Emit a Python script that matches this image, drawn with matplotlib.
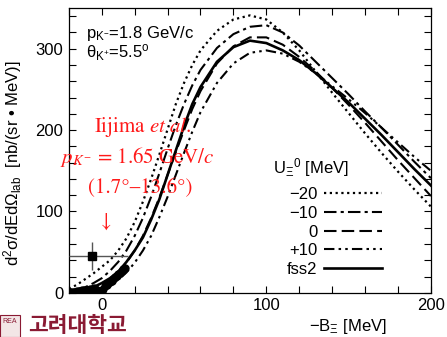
import matplotlib
matplotlib.use('Agg')
import matplotlib.pyplot as plt
from matplotlib.ticker import MultipleLocator
from matplotlib.patches import Rectangle

plt.rcParams['font.family'] = ['Liberation Sans', 'DejaVu Sans']
plt.rcParams['mathtext.fontset'] = 'custom'
plt.rcParams['mathtext.rm'] = 'Liberation Sans'
plt.rcParams['mathtext.it'] = 'Liberation Sans:italic'
plt.rcParams['mathtext.bf'] = 'Liberation Sans:bold'

# energy grid (-B_Xi, MeV)
x = [-20, -15, -10, -5, 0, 5, 10, 15, 20, 25, 30, 35, 40, 45, 50, 55, 60,
     70, 80, 90, 100, 110, 120, 130, 140, 150, 160, 170, 180, 190, 200]

# spectra for U_Xi^0 = -20, -10, 0, +10 MeV and fss2 [nb/(sr MeV)]
u_m20 = [5, 10, 17, 24, 32, 40, 52, 67, 87, 112, 140, 170, 201, 232, 258, 280, 298,
         322, 336, 341, 336, 320, 298, 272, 246, 221, 196, 172, 149, 127, 106]
u_m10 = [2, 4, 7, 12, 18, 27, 38, 52, 70, 92, 118, 147, 177, 206, 232, 255, 274,
         301, 318, 327, 329, 320, 304, 284, 264, 244, 223, 203, 182, 161, 141]
u_0 = [1, 2, 3, 6, 10, 16, 25, 37, 52, 70, 92, 117, 145, 173, 200, 226, 248,
       282, 303, 314, 314, 305, 290, 272, 252, 231, 209, 186, 163, 141, 119]
u_p10 = [0.5, 1, 2, 3.5, 6, 10, 16, 25, 37, 52, 70, 93, 118, 145, 172, 198, 222,
         258, 282, 295, 298, 294, 284, 270, 254, 238, 221, 203, 185, 167, 150]
fss2 = [1, 2, 4, 7, 12, 18, 26, 38, 52, 68, 90, 115, 145, 175, 205, 232, 253,
        284, 302, 310, 307, 298, 286, 270, 252, 234, 214, 194, 173, 152, 132]

# measured points
data_x = [-20, -19, -18, -17, -16, -15, -14, -13, -12, -11, -10, -9, -8, -7, -6,
          -5, -4, -3, -2, -1, 0, 1, 2, 3, 4, 5, 6, 7, 8, 9, 10, 11, 12, 13, 14]
data_y = [1, 1, 1.5, 1, 1.5, 2, 2, 2.5, 3, 3, 3.5, 4, 4, 4.5, 5,
          6, 5, 4, 2, 1.5, 2, 5, 8, 10, 12, 13, 15, 17, 19, 21, 23, 25, 27, 29, 31]

# Iijima et al. point
iij_x, iij_y = -6, 45
iij_xerr = [[14], [22]]
iij_yerr = 17

fig = plt.figure(figsize=(4.47, 3.37), dpi=100)
ax = fig.add_axes([0.154, 0.131, 0.81, 0.845])

ax.plot(x, u_m20, color='black', lw=1.6, linestyle=(0, (1, 1.6)), label='\u221220')
ax.plot(x, u_m10, color='black', lw=1.5, linestyle=(0, (6, 2, 1.5, 2)), label='\u221210')
ax.plot(x, u_0, color='black', lw=1.5, linestyle=(0, (6, 2.5)), label='0')
ax.plot(x, u_p10, color='black', lw=1.5, linestyle=(0, (5, 2, 1.2, 2, 1.2, 2)), label='+10')
ax.plot(x, fss2, color='black', lw=1.9, label='fss2')

ax.plot(data_x, data_y, 'o', color='black', ms=5, zorder=4)
ax.errorbar(iij_x, iij_y, xerr=iij_xerr, yerr=iij_yerr, fmt='s', color='black',
            ms=6, ecolor='#555555', elinewidth=1, capsize=0, zorder=5)

ax.set_xlim(-20, 200)
ax.set_ylim(0, 350)
ax.xaxis.set_major_locator(MultipleLocator(100))
ax.xaxis.set_minor_locator(MultipleLocator(20))
ax.yaxis.set_major_locator(MultipleLocator(100))
ax.yaxis.set_minor_locator(MultipleLocator(20))
ax.tick_params(which='both', direction='in', top=True, right=True, length=5,
               width=0.8, labelsize=12, pad=4)
for s in ax.spines.values():
    s.set_linewidth(0.9)

ax.set_xlabel('\u2212B$_{\u039e}$ [MeV]', fontsize=12)
ax.xaxis.set_label_coords(0.77, -0.085)
ax.set_ylabel('d$^2$\u03c3/dEd\u03a9$_{\\mathrm{lab}}$  [nb/(sr \u2022 MeV)]', fontsize=12)
ax.yaxis.set_label_coords(-0.125, 0.455)

ax.text(0.047, 0.912, 'p$_{\\mathrm{K}^{-}}$=1.8 GeV/c', transform=ax.transAxes,
        fontsize=12, va='center', ha='left')
ax.text(0.047, 0.842, '\u03b8$_{\\mathrm{K}^{+}}$=5.5$^{\\mathrm{o}}$', transform=ax.transAxes,
        fontsize=12, va='center', ha='left')

red = '#ff1a1a'
rk = dict(transform=ax.transAxes, color=red, fontsize=15, family='STIXGeneral',
          math_fontfamily='stix', ha='center', va='center', zorder=6)
ax.text(0.203, 0.582, 'Iijima $\\mathit{et\\ al.}$', **rk)
ax.text(0.189, 0.477, '$p_{K^{-}}$ = 1.65 GeV/$c$', **rk)
ax.text(0.196, 0.368, '(1.7\u00b0\u201313.6\u00b0)', **rk)
ax.text(0.102, 0.249, '\u2193', **rk)

leg = ax.legend(loc='upper left', bbox_to_anchor=(0.58, 0.40), frameon=False,
                markerfirst=False, fontsize=12, handlelength=3.5,
                handletextpad=0.35, labelspacing=0.22, borderpad=0)
ax.text(0.565, 0.44, 'U$_{\u039e}$$^{0}$ [MeV]', transform=ax.transAxes,
        fontsize=12, va='center', ha='left')

# Korea University logo
kcol = '#8a1a33'
fig.patches.append(Rectangle((0.0, 0.0), 0.045, 0.065, transform=fig.transFigure,
                             facecolor='#f3e6e6', edgecolor=kcol, lw=0.8))
fig.text(0.022, 0.045, 'REA', color=kcol, fontsize=5, ha='center', va='center')
fig.text(0.063, 0.003, '\uace0\ub824\ub300\ud559\uad50', color=kcol, fontsize=15.5,
         family=['Noto Sans CJK KR'], weight='bold', ha='left', va='bottom')

fig.savefig('out.png', dpi=100)
